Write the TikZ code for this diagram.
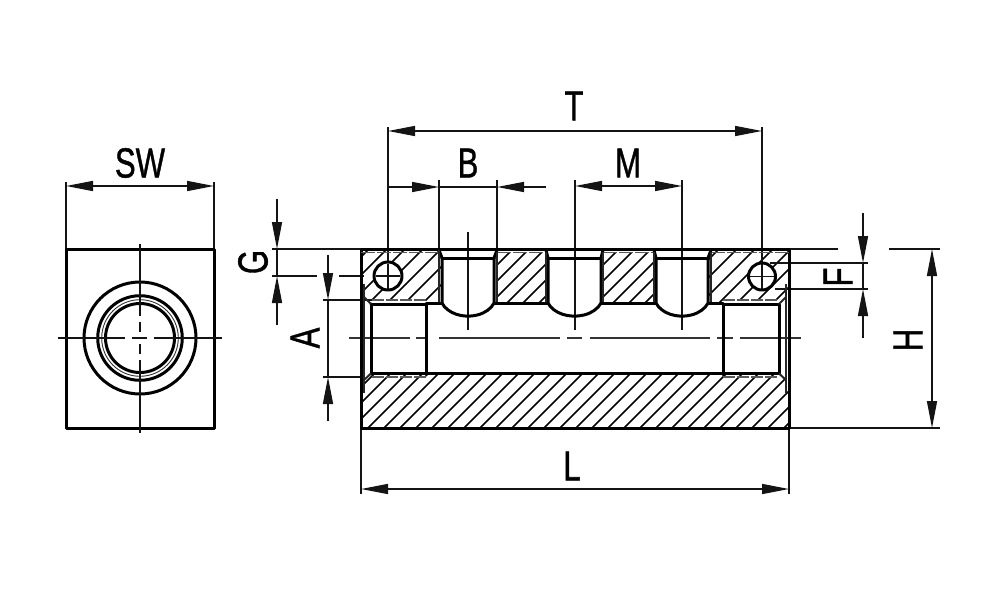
\documentclass[tikz,border=0pt]{standalone}
\usepackage{fontspec}
\usepackage{graphicx}
\setmainfont{Liberation Sans}
\newfontfamily\labfont[FakeBold=1.2]{Liberation Sans}
\usetikzlibrary{arrows.meta}
\tikzset{
 thickline/.style={line width=3pt,black,line cap=round,line join=round},
 midline/.style={line width=2pt,black!85},
 thinline/.style={line width=1.5pt,black!92},
 faintline/.style={line width=1.4pt,black!65},
 hatchline/.style={line width=1.5pt,black},
 dimline/.style={line width=1.5pt,black!92},
 centerline/.style={line width=1.4pt,black!80},
 dimarrow/.style={dimline,{Triangle[length=27pt,width=10pt]}-{Triangle[length=27pt,width=10pt]}},
 endarrow/.style={dimline,-{Triangle[length=27pt,width=10pt]}},
 dimlabel/.style={font=\labfont\fontsize{42}{42}\selectfont,inner sep=0pt,text=black},
}
\newcommand{\lab}[1]{\scalebox{0.74}[1]{#1}}
\begin{document}
\begin{tikzpicture}[x=1pt,y=-1pt]
\useasboundingbox[fill=white] (0,0) rectangle (1000,599);

% ---- hatching
\begin{scope}
 \clip (361,250)--(439,250)--(442,258)--(442,303)--(426,303)--(426,300)--(371,300)--(364,304)--(361,304)--cycle;
 \foreach \k in {370,388,...,680}{\draw[hatchline] (\k,230)--(\k-120,350);}
\end{scope}
\begin{scope}
 \clip (497,252) rectangle (546,303);
 \foreach \k in {500,516,...,700}{\draw[hatchline] (\k,230)--(\k-120,350);}
\end{scope}
\begin{scope}
 \clip (603,252) rectangle (654,303);
 \foreach \k in {606,622,...,800}{\draw[hatchline] (\k,230)--(\k-120,350);}
\end{scope}
\begin{scope}
 \clip (789,250)--(711,250)--(708,258)--(708,303)--(723,303)--(723,300)--(779,300)--(786,304)--(789,304)--cycle;
 \foreach \k in {720,738,...,1000}{\draw[hatchline] (\k,230)--(\k-120,350);}
\end{scope}
\begin{scope}
 \clip (361,428)--(361,380)--(371,373)--(779,373)--(787,380)--(789,380)--(789,428)--cycle;
 \foreach \k in {376,392,...,1000}{\draw[hatchline] (\k,340)--(\k-120,460);}
\end{scope}
\fill[white] (388,276) circle (14);
\fill[white] (762,276.5) circle (13.5);

% ---- extension lines (thin)
\draw[thinline] (388,127)--(388,262);
\draw[thinline] (762,127)--(762,262);
\draw[thinline] (439,180)--(439,250);
\draw[thinline] (497,180)--(497,250);
\draw[thinline] (66,182)--(66,249);
\draw[thinline] (214,182)--(214,249);
\draw[thinline] (361,428)--(361,494);
\draw[thinline] (789,428)--(789,494);
\draw[thinline] (272,249)--(361,249);
\draw[thinline] (272,276)--(317,276);
\draw[thinline] (339,276)--(364,276);
\draw[thinline] (323,300)--(372,300);
\draw[thinline] (323,377)--(364,377);
\draw[thinline] (789,249)--(838,249);
\draw[thinline] (770,263)--(868,263);
\draw[thinline] (775,289)--(868,289);
\draw[thinline] (889,249)--(940,249);
\draw[thinline] (789,428)--(940,428);

% ---- centre lines
\draw[centerline] (349,338)--(410,338) (416,338)--(428,338) (439,338)--(560,338) (567,338)--(582,338) (590,338)--(710,338) (717,338)--(733,338) (740,338)--(801,338);
\draw[thinline] (468,232)--(468,330);
\draw[thinline] (575,180)--(575,330);
\draw[thinline] (682,180)--(682,330);
\draw[thinline] (376,276)--(400,276) (388,264)--(388,290);
\draw[thinline] (750,276.5)--(775,276.5) (762,264)--(762,290);

% ---- main outline
\draw[thickline] (361,249) rectangle (789,428);
\draw[faintline,dash pattern=on 14pt off 2pt] (361,252.5)--(439,252.5) (497,252.5)--(546,252.5) (603,252.5)--(654,252.5) (711,252.5)--(789,252.5);

% ports
\draw[thickline] (439,250)--(442,258)--(442,303) arc[start angle=200,end angle=340,x radius=27.7,y radius=-20] --(494,258)--(497,250);
\draw[thickline] (442,258)--(494,258);
\draw[midline] (497,252)--(497,303);
\draw[midline] (439,250)--(439,303);
\draw[thickline] (546,250)--(548,258)--(548,303) arc[start angle=200,end angle=340,x radius=28.2,y radius=-20]--(601,258)--(603,250);
\draw[thickline] (548,258)--(601,258);
\draw[midline] (546,252)--(546,303);
\draw[midline] (603,252)--(603,303);
\draw[thickline] (654,250)--(656,258)--(656,303) arc[start angle=200,end angle=340,x radius=27.7,y radius=-20]--(708,258)--(711,250);
\draw[thickline] (656,258)--(708,258);
\draw[midline] (654,252)--(654,303);
\draw[midline] (711,252)--(711,303);

% bore
\draw[thickline] (426,303.5)--(442,303.5);
\draw[thickline] (494,303.5)--(548,303.5);
\draw[thickline] (601,303.5)--(656,303.5);
\draw[thickline] (708,303.5)--(723,303.5);
\draw[thickline] (371,373.5)--(779,373.5);
% counterbores
\draw[thickline] (371,304)--(426,304)--(426,375);
\draw[thickline] (371,304)--(371,373.5);
\draw[thickline] (723,304)--(779,304)--(779,373.5);
\draw[thickline] (723,304)--(723,375);
\draw[midline] (371,304)--(364,297) (371,373.5)--(364,380);
\draw[midline] (779,304)--(786,297) (779,373.5)--(786,380);
\draw[midline] (364,284)--(364,393);
\draw[midline] (786,284)--(786,393);
\draw[faintline,dash pattern=on 12pt off 2pt] (372,300)--(426,300) (723,300)--(779,300) (372,377)--(426,377) (723,377)--(779,377);

% cross holes
\draw[thickline] (388,276) circle (14);
\draw[thickline] (762,276.5) circle (13.5);

% ---- left view
\draw[thickline] (66,249) rectangle (214,428);
\draw[thickline] (140,338) circle (56);
\draw[thickline] (140,338) circle (42.3);
\draw[line width=0.9pt,black!80] (140,338) circle (38.3);
\draw[thickline] (140,338) circle (34.5);
\draw[thinline] (58,338)--(125,338) (132,338)--(147,338) (154,338)--(222,338);
\draw[thinline] (140,244)--(140,316) (140,322)--(140,332) (140,344)--(140,354) (140,360)--(140,433);

% ---- dimensions
\draw[dimarrow] (388,131)--(762,131);
\draw[dimline] (439,187)--(497,187);
\draw[endarrow] (388,187)--(439,187);
\draw[endarrow] (546,187)--(497,187);
\draw[dimarrow] (575,186)--(682,186);
\draw[dimarrow] (66,186)--(214,186);
\draw[dimarrow] (361,489)--(789,489);
\draw[dimarrow] (932,249)--(932,428);
\draw[endarrow] (863,213)--(863,263);
\draw[dimline] (863,263)--(863,289);
\draw[endarrow] (863,338)--(863,289);
\draw[endarrow] (277,199)--(277,249);
\draw[dimline] (277,249)--(277,276);
\draw[endarrow] (277,325)--(277,276);
\draw[endarrow] (328,255)--(328,300);
\draw[dimline] (328,300)--(328,377);
\draw[endarrow] (328,421)--(328,377);

% ---- labels
\node[dimlabel] (labelT) at (574,106) {\lab{T}};
\node[dimlabel] (labelB) at (468,163) {\lab{B}};
\node[dimlabel] (labelM) at (628,163) {\lab{M}};
\node[dimlabel] (labelSW) at (140,163) {\lab{SW}};
\node[dimlabel] (labelL) at (572,466) {\lab{L}};
\node[dimlabel,rotate=90] (labelG) at (253,262) {\lab{G}};
\node[dimlabel,rotate=90] (labelA) at (305,338) {\lab{A}};
\node[dimlabel,rotate=90] (labelF) at (838,277) {\lab{F}};
\node[dimlabel,rotate=90] (labelH) at (908,340) {\lab{H}};
\end{tikzpicture}
\end{document}
